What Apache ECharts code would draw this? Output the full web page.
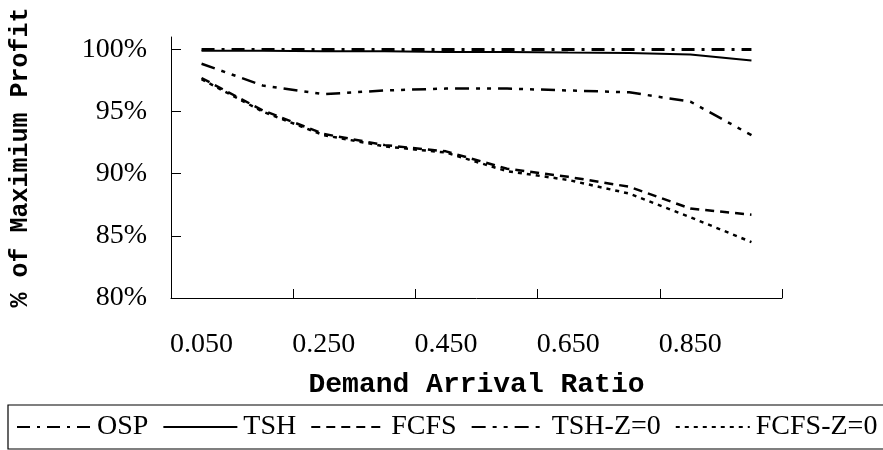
<!DOCTYPE html>
<html>
<head>
<meta charset="utf-8">
<script src="https://cdn.jsdelivr.net/npm/echarts@6/dist/echarts.min.js"></script>
<style>html,body{margin:0;padding:0;background:#fff}#c{width:883px;height:450px}</style>
</head>
<body>
<div id="c"></div>
<script>
const categories = ['0.050','0.150','0.250','0.350','0.450','0.550','0.650','0.750','0.850','0.950'];
const osp     = [100, 100, 100, 100, 100, 100, 100, 100, 100, 100];
const tsh     = [99.9, 99.9, 99.85, 99.85, 99.8, 99.8, 99.75, 99.72, 99.6, 99.1];
const fcfs    = [97.7, 95.1, 93.2, 92.3, 91.8, 90.4, 89.75, 88.95, 87.2, 86.7];
const tshZ0   = [98.85, 97.1, 96.4, 96.7, 96.85, 96.85, 96.7, 96.55, 95.8, 93.1];
const fcfsZ0  = [97.6, 95.0, 93.1, 92.2, 91.7, 90.2, 89.5, 88.4, 86.5, 84.5];
const yTicks  = [80, 85, 90, 95, 100];
const seriesNames = ['OSP', 'TSH', 'FCFS', 'TSH-Z=0', 'FCFS-Z=0'];

const serif = '"Liberation Serif", "DejaVu Serif", serif';
const mono = '"Liberation Mono", "DejaVu Sans Mono", monospace';

function mk(name, data, type, width) {
  return {
    name: name, type: 'line', data: data, symbol: 'none', smooth: false,
    lineStyle: { color: '#000', width: width, type: type, cap: 'butt' },
    itemStyle: { color: '#000' }, animation: false
  };
}

const chart = echarts.init(document.getElementById('c'));
chart.setOption({
  backgroundColor: '#fff',
  animation: false,
  textStyle: { fontFamily: serif, color: '#000' },
  grid: { left: 169, right: 101, top: 37, bottom: 152, containLabel: false },
  xAxis: {
    type: 'category', data: categories, boundaryGap: true,
    name: 'Demand Arrival Ratio', nameLocation: 'middle', nameGap: 73,
    nameTextStyle: { fontFamily: mono, fontWeight: 'bold', fontSize: 28, color: '#000' },
    axisLine: { lineStyle: { color: '#000', width: 1 } },
    axisTick: { show: true, inside: true, length: 9, interval: 1, lineStyle: { color: '#000' } },
    axisLabel: { interval: 1, fontSize: 28, fontFamily: serif, color: '#000', margin: 33 },
    splitLine: { show: false }
  },
  yAxis: {
    type: 'value', min: 80, max: 101,
    name: '% of Maximium Profit', nameLocation: 'middle', nameGap: 138, nameRotate: 90,
    nameTextStyle: { fontFamily: mono, fontWeight: 'bold', fontSize: 25, color: '#000', padding: [0, 0, 0, 20] },
    axisLine: { show: true, lineStyle: { color: '#000', width: 1 } },
    axisTick: { show: true, inside: true, length: 10, customValues: yTicks, lineStyle: { color: '#000' } },
    axisLabel: { customValues: yTicks, formatter: '{value}%', fontSize: 28, fontFamily: serif, color: '#000', margin: 24 },
    splitLine: { show: false }
  },
  legend: {
    data: seriesNames, left: 8, top: 405, width: 2000, orient: 'horizontal',
    itemWidth: 74, itemHeight: 14, itemGap: 14,
    padding: [8, 8, 8, 8],
    borderColor: '#000', borderWidth: 1.2,
    itemStyle: { color: 'rgba(0,0,0,0)', borderWidth: 0, opacity: 0 },
    textStyle: { fontFamily: serif, fontSize: 28, color: '#000', padding: [0, 0, 0, 1] }
  },
  series: [
    mk('OSP', osp, [13, 7, 3, 7], 3),
    mk('TSH', tsh, 'solid', 2),
    mk('FCFS', fcfs, [9, 6], 2.5),
    mk('TSH-Z=0', tshZ0, [14, 7, 4, 7, 4, 7], 2.5),
    mk('FCFS-Z=0', fcfsZ0, [4, 5], 2.5)
  ]
});
</script>
</body>
</html>
